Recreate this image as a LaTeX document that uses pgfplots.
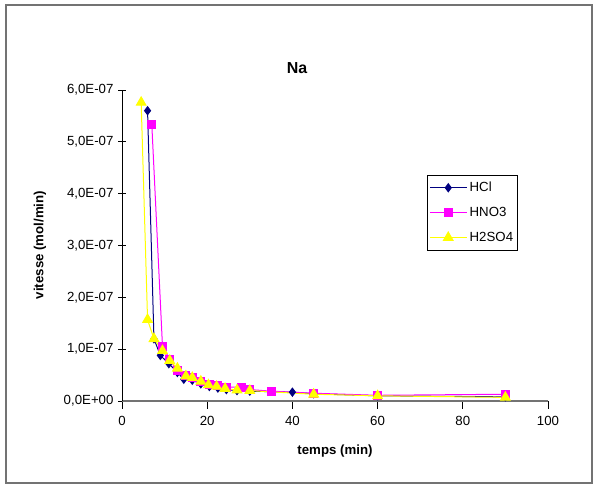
\documentclass[border=0pt]{standalone}
\usepackage{pgfplots}
\pgfplotsset{compat=1.18}
\usepackage{fontspec}
\setmainfont{Liberation Sans}
\definecolor{hcl}{RGB}{0,0,128}
\definecolor{hno}{RGB}{255,0,255}
\definecolor{hso}{RGB}{255,255,0}
\begin{document}
\begin{tikzpicture}[x=1bp,y=1bp]
\path[use as bounding box] (-122,-85) rectangle (476,401);
\draw[black!55, line width=1.1bp] (-116,-82) rectangle (470,396);
\node[font=\bfseries\fontsize{16}{19}\selectfont] at (175,333) {Na};
\node[font=\bfseries\fontsize{13.3}{16}\selectfont, rotate=90] at (-82,156) {vitesse (mol/min)};
\node[font=\bfseries\fontsize{13.3}{16}\selectfont] at (213,-50) {temps (min)};
\begin{axis}[
  at={(0,0)}, anchor=south west,
  scale only axis, width=426bp, height=311bp,
  xmin=0, xmax=100, ymin=0, ymax=6e-7,
  axis x line=bottom, axis y line=left,
  x axis line style={-, black!55, line width=1.2bp},
  y axis line style={-, black, line width=0.8bp},
  xtick={0,20,40,60,80,100},
  ytick={0,1e-7,2e-7,3e-7,4e-7,5e-7,6e-7},
  yticklabels={{0,0E+00},{1,0E-07},{2,0E-07},{3,0E-07},{4,0E-07},{5,0E-07},{6,0E-07}},
  scaled y ticks=false,
  /pgf/number format/assume math mode=true,
  x tick style={black, line width=0.8bp},
  y tick style={black, line width=0.8bp},
  xtick align=outside, ytick align=center,
  major tick length=8bp,
  ticklabel style={font=\fontsize{13.3}{16}\selectfont},
  xticklabel style={yshift=-4bp},
  yticklabel style={xshift=-1bp},
  clip=false,
  legend cell align=left,
  legend style={at={(0.716,0.727)}, anchor=north west, draw=black, line width=0.6bp,
    font=\fontsize{13.3}{16}\selectfont, inner xsep=2bp, inner ysep=7bp, row sep=14bp,
    nodes={inner xsep=2.5bp, inner ysep=0bp}},
  legend image code/.code={\draw[mark repeat=2,mark phase=2,#1] plot coordinates {(0cm,0cm)(0.65cm,0cm)(1.3cm,0cm)};},
]
\addplot[color=hcl, line width=1bp, mark=diamond*, mark size=4bp, mark options={solid, fill=hcl}] coordinates {
(6,5.6e-7)(7.5,1.2e-7)(9,0.88e-7)(11,0.72e-7)(13,0.55e-7)(14.5,0.42e-7)(16.5,0.4e-7)(18.5,0.33e-7)(20.5,0.28e-7)(22.5,0.25e-7)(24.5,0.22e-7)(27,0.2e-7)(30,0.19e-7)(40,0.17e-7)(45,0.14e-7)(60,0.1e-7)(90,0.08e-7)};
\addlegendentry{HCl}
\addplot[color=hno, line width=1bp, mark=square*, mark size=4bp, mark options={solid, fill=hno}] coordinates {
(7,5.33e-7)(9.5,1.06e-7)(11.2,0.8e-7)(13,0.58e-7)(14.8,0.5e-7)(16.5,0.45e-7)(18.5,0.38e-7)(20.5,0.32e-7)(22.5,0.3e-7)(24.5,0.27e-7)(28,0.27e-7)(30,0.22e-7)(35,0.19e-7)(45,0.15e-7)(60,0.11e-7)(90,0.13e-7)};
\addlegendentry{HNO3}
\addplot[color=hso, line width=1bp, mark=triangle*, mark size=5.5bp, mark options={solid, fill=hso}] coordinates {
(4.5,5.76e-7)(6,1.57e-7)(7.5,1.2e-7)(9.5,0.97e-7)(11.2,0.78e-7)(13,0.63e-7)(15,0.48e-7)(16.5,0.45e-7)(18.5,0.38e-7)(20.3,0.31e-7)(22.2,0.28e-7)(24.2,0.24e-7)(27,0.21e-7)(30,0.2e-7)(45,0.13e-7)(60,0.1e-7)(90,0.07e-7)};
\addlegendentry{H2SO4}
\end{axis}
\end{tikzpicture}
\end{document}
